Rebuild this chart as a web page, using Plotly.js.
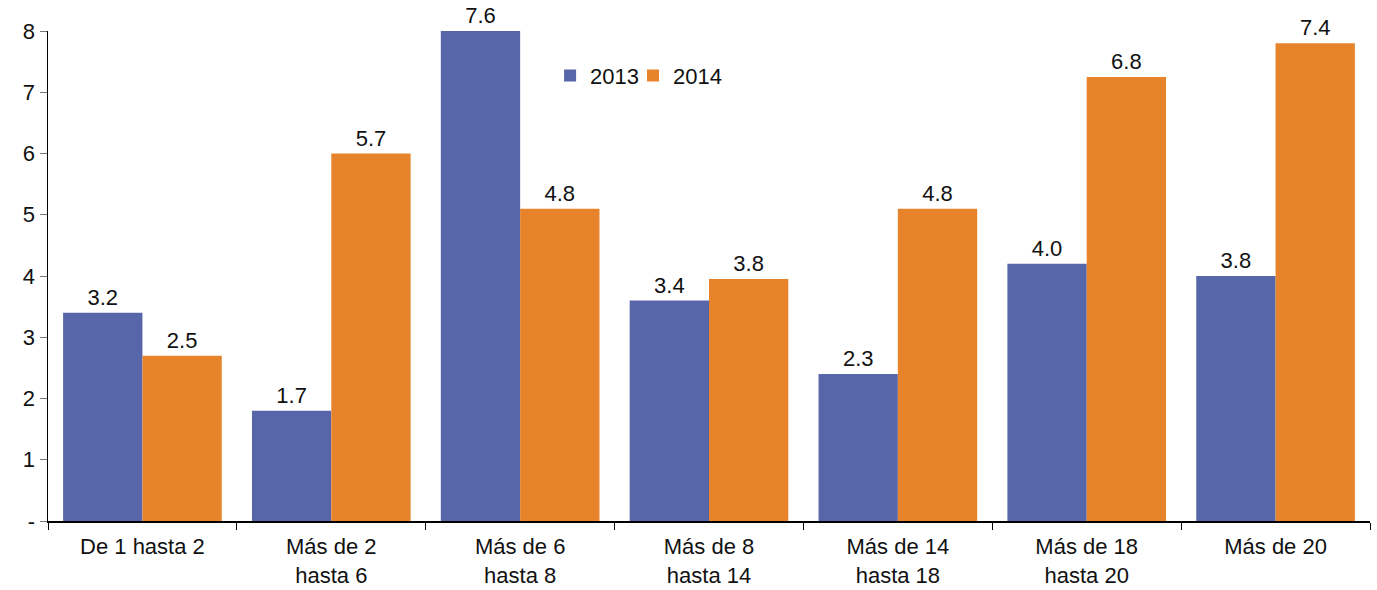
<!DOCTYPE html>
<html>
<head>
<meta charset="utf-8">
<script src="https://cdn.plot.ly/plotly-3.0.1.min.js"></script>
<style>html,body{margin:0;padding:0;background:#fff;}#chart{width:1377px;height:590px;}</style>
</head>
<body>
<div id="chart"></div>
<script>
var categories = ["De 1 hasta 2", "Más de 2<br>hasta 6", "Más de 6<br>hasta 8", "Más de 8<br>hasta 14", "Más de 14<br>hasta 18", "Más de 18<br>hasta 20", "Más de 20"];
var values2013 = [3.4, 1.8, 8.0, 3.6, 2.4, 4.2, 4.0];
var values2014 = [2.7, 6.0, 5.1, 3.95, 5.1, 7.25, 7.8];
var labels2013 = ["3.2", "1.7", "7.6", "3.4", "2.3", "4.0", "3.8"];
var labels2014 = ["2.5", "5.7", "4.8", "3.8", "4.8", "6.8", "7.4"];
var yTickVals = [0, 1, 2, 3, 4, 5, 6, 7, 8];
var yTickText = ["-", "1", "2", "3", "4", "5", "6", "7", "8"];

var font = {family: "Liberation Sans, Arial, Helvetica, sans-serif", size: 22, color: "#111"};

var traces = [
  {type: "bar", name: "2013", x: categories, y: values2013, text: labels2013,
   textposition: "outside", texttemplate: "%{text}", cliponaxis: false, constraintext: "none",
   marker: {color: "#5765A9"}, textfont: font, hoverinfo: "skip", legend: "legend"},
  {type: "bar", name: "2014", x: categories, y: values2014, text: labels2014,
   textposition: "outside", texttemplate: "%{text}", cliponaxis: false, constraintext: "none",
   marker: {color: "#E6832B"}, textfont: font, hoverinfo: "skip", legend: "legend2"}
];

var legendBase = {orientation: "h", xanchor: "left", yanchor: "middle",
                  font: font, itemwidth: 30, bgcolor: "rgba(0,0,0,0)"};

var layout = {
  width: 1377, height: 590,
  margin: {l: 48, r: 7, t: 31, b: 69},
  paper_bgcolor: "#fff", plot_bgcolor: "#fff",
  font: font,
  barmode: "group", bargap: 0.16, bargroupgap: 0,
  showlegend: true,
  legend: Object.assign({}, legendBase, {x: 0.3798, y: 0.909}),
  legend2: Object.assign({}, legendBase, {x: 0.4425, y: 0.909}),
  xaxis: {type: "category", showline: true, linecolor: "#000", linewidth: 1.5,
          ticks: "outside", tickson: "boundaries", ticklen: 7, tickcolor: "#000",
          ticklabelstandoff: 5,
          tickfont: font, showgrid: false, zeroline: false, automargin: false},
  yaxis: {range: [0, 8], tickvals: yTickVals, ticktext: yTickText,
          showline: true, linecolor: "#000", linewidth: 1.5,
          ticks: "outside", ticklen: 7, tickcolor: "#777",
          tickfont: font, showgrid: false, zeroline: false, automargin: false}
};

Plotly.newPlot("chart", traces, layout, {displayModeBar: false, staticPlot: true});
</script>
</body>
</html>
